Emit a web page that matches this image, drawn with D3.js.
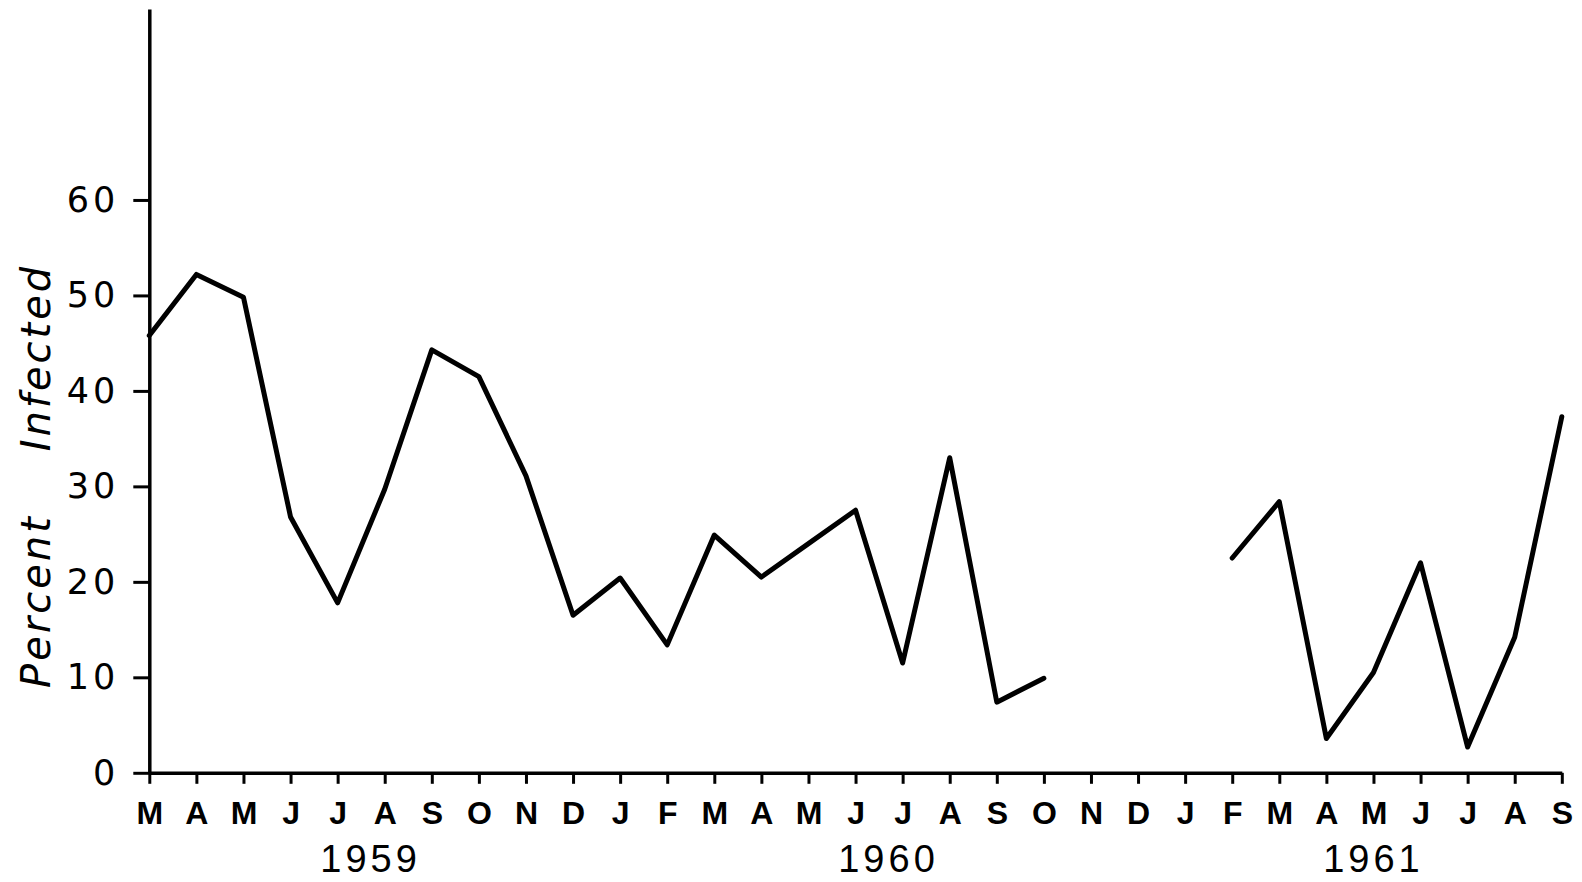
<!DOCTYPE html>
<html>
<head>
<meta charset="utf-8">
<script src="https://cdn.jsdelivr.net/npm/d3@7"></script>
<style>
  html, body { margin: 0; padding: 0; background: #fff; }
  svg { display: block; }
</style>
</head>
<body>
<svg id="chart" width="1582" height="882"></svg>
<script>
// ---- data ----
const months = ["M","A","M","J","J","A","S","O","N","D",
                "J","F","M","A","M","J","J","A","S","O","N","D",
                "J","F","M","A","M","J","J","A","S"];
const percentInfected = [45.8, 52.2, 49.8, 26.8, 17.8, 29.7, 44.3, 41.5, 31.1, 16.5,
                         20.4, 13.4, 24.9, 20.5, 24.0, 27.5, 11.5, 33.0, 7.4, 9.9,
                         null, null, null,
                         22.5, 28.4, 3.6, 10.5, 22.0, 2.7, 14.2, 37.3];
const yTicks = [0, 10, 20, 30, 40, 50, 60];
const yearLabels = ["1959", "1960", "1961"];
const yearPositions = [4.7, 15.7, 26.0];   // in month-index units
const yTitle = "Percent\u00A0\u00A0\u00A0\u00A0Infected";

// ---- layout ----
const svg = d3.select("#chart");
const idx = months.map((_, i) => i);
const x = d3.scalePoint().domain(idx).range([149.3, 1561.8]);
const xLin = d3.scaleLinear().domain([0, months.length - 1]).range([149.3, 1561.8]);
const y = d3.scaleLinear().domain([0, 80]).range([772.8, 9]);

// y axis
const yAxis = svg.append("g")
  .attr("transform", `translate(${x(0)},0)`)
  .call(d3.axisLeft(y).tickValues(yTicks).tickSize(16).tickSizeOuter(0).tickPadding(14).tickFormat(d3.format("d")));
yAxis.select(".domain").attr("stroke", "#000").attr("stroke-width", 3.5);
yAxis.selectAll(".tick line").attr("stroke", "#000").attr("stroke-width", 3);
yAxis.selectAll(".tick text")
  .attr("fill", "#000")
  .style("font-family", "'DejaVu Sans', sans-serif")
  .style("font-size", "35px")
  .style("letter-spacing", "4px");

// x axis
const xAxis = svg.append("g")
  .attr("transform", `translate(0,${y(0)})`)
  .call(d3.axisBottom(x).tickSize(11).tickSizeOuter(0).tickPadding(17).tickFormat(i => months[i]));
xAxis.select(".domain").attr("stroke", "#000").attr("stroke-width", 3.5);
xAxis.selectAll(".tick line").attr("stroke", "#000").attr("stroke-width", 3);
xAxis.selectAll(".tick text")
  .attr("fill", "#000")
  .style("font-family", "'Liberation Sans Narrow', 'Liberation Sans', sans-serif")
  .style("font-weight", "bold")
  .style("font-size", "32px");

// year labels
svg.append("g").selectAll("text")
  .data(yearLabels)
  .join("text")
  .attr("x", (d, i) => xLin(yearPositions[i]))
  .attr("y", 872)
  .attr("text-anchor", "middle")
  .style("font-family", "'Liberation Sans', sans-serif")
  .style("font-size", "38px")
  .style("letter-spacing", "4px")
  .attr("fill", "#000")
  .text(d => d);

// y title
svg.append("text")
  .attr("transform", `translate(50,${y(31.1)}) rotate(-90)`)
  .attr("text-anchor", "middle")
  .style("font-family", "'DejaVu Sans', sans-serif")
  .style("font-style", "italic")
  .style("font-size", "40px")
  .style("letter-spacing", "3px")
  .attr("fill", "#000")
  .text(yTitle);

// line
const line = d3.line()
  .defined(d => d != null)
  .x((d, i) => x(i))
  .y(d => y(d));
svg.append("path")
  .datum(percentInfected)
  .attr("fill", "none")
  .attr("stroke", "#000")
  .attr("stroke-width", 5)
  .attr("stroke-linejoin", "round")
  .attr("stroke-linecap", "round")
  .attr("d", line);
</script>
</body>
</html>
